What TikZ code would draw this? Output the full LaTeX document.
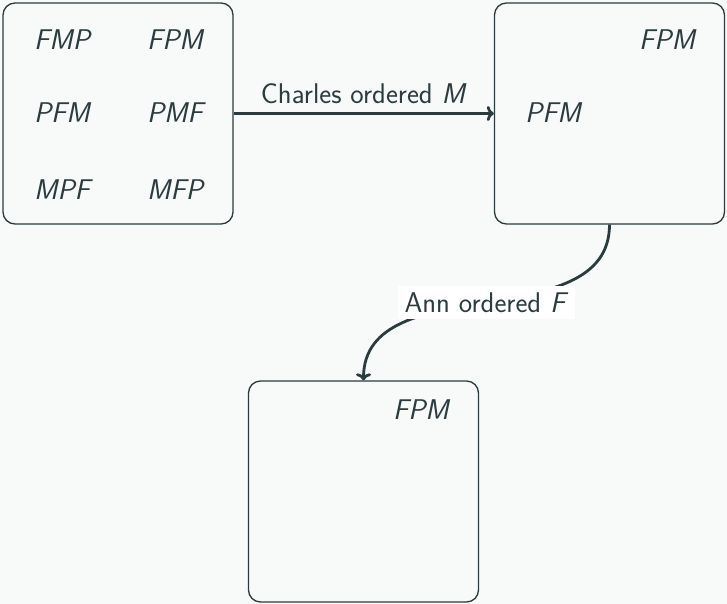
\documentclass[tikz,border=0pt]{standalone}
\usetikzlibrary{arrows.meta}
\definecolor{ink}{HTML}{2B3B3E}
\definecolor{bg}{HTML}{F8F9F9}
\begin{document}
\begin{tikzpicture}[x=1pt,y=-1pt,
  every node/.style={font=\fontsize{28.5}{32}\selectfont\sffamily, text=ink},
  box/.style={draw=ink, line width=1.3pt, rounded corners=12pt, minimum width=230pt, minimum height=221pt, inner sep=0pt},
  perm/.style={font=\fontsize{28.5}{32}\selectfont\sffamily\itshape},
  conn/.style={draw=ink, line width=2.8pt, -{To[length=7pt,width=15pt]}}]
\fill[bg] (0,0) rectangle (727,604);
\useasboundingbox (0,0) rectangle (727,604);
\node[box] (b1) at (118,113.5) {};
\node[box] (b2) at (609.5,113.5) {};
\node[box] (b3) at (363.5,491.5) {};
\node[perm] (p1) at (62,40) {FMP};
\node[perm] (p2) at (175,40) {FPM};
\node[perm] (p3) at (62,113) {PFM};
\node[perm] (p4) at (175,113) {PMF};
\node[perm] (p5) at (62,190) {MPF};
\node[perm] (p6) at (175,190) {MFP};
\node[perm] (q1) at (667,40) {FPM};
\node[perm] (q2) at (553,113) {PFM};
\node[perm] (r1) at (421,410) {FPM};
\draw[conn] (b1.east) -- node[above=5pt] {Charles ordered \textit{M}} (b2.west);
\draw[conn] (b2.south) to[out=-90,in=90] node[fill=white, inner xsep=7pt, inner ysep=6pt] {Ann ordered \textit{F}} (b3.north);
\end{tikzpicture}
\end{document}
